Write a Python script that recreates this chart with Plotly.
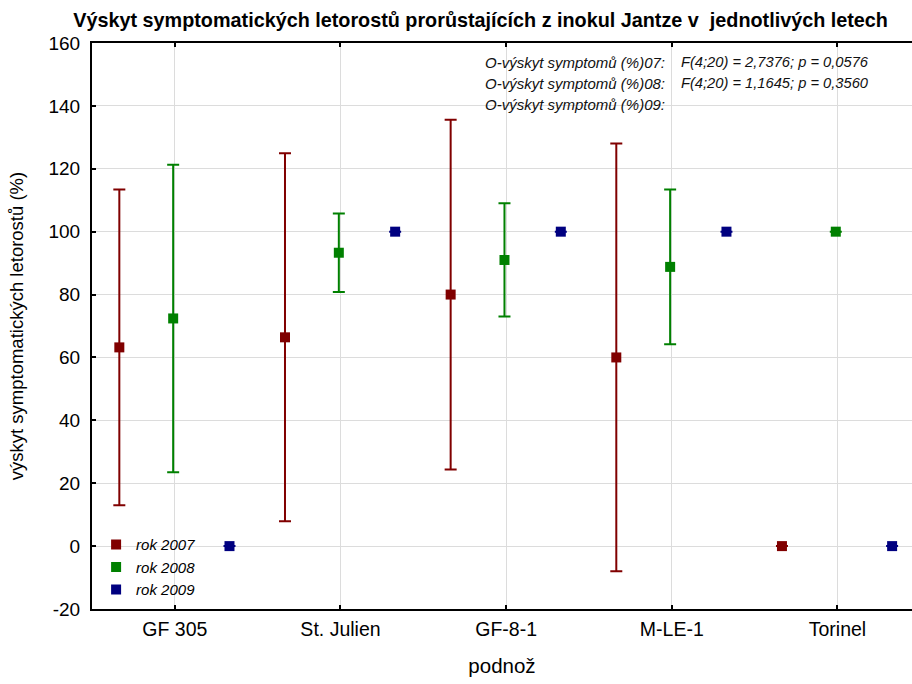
import plotly.graph_objects as go

categories = ["GF 305", "St. Julien", "GF-8-1", "M-LE-1", "Torinel"]
years = ["rok 2007", "rok 2008", "rok 2009"]
mean_2007 = [63.2, 66.4, 80.0, 60.0, 0.0]
err_2007 = [50.2, 58.5, 55.6, 68.0, 0.0]
mean_2008 = [72.4, 93.3, 91.0, 88.8, 100.0]
err_2008 = [48.9, 12.5, 18.0, 24.6, 0.0]
mean_2009 = [0.0, 100.0, 100.0, 100.0, 0.0]
err_2009 = [0.0, 0.0, 0.0, 0.0, 0.0]
y_tickvals = [-20, 0, 20, 40, 60, 80, 100, 120, 140, 160]
y_ticktext = ["-20", "0", "20", "40", "60", "80", "100", "120", "140", "160"]
colors = ["#800000", "#008000", "#000080"]
offsets = [-0.335, -0.01, 0.33]

stat_labels = ["O-výskyt symptomů (%)07:", "O-výskyt symptomů (%)08:", "O-výskyt symptomů (%)09:"]
stat_values = ["F(4;20) = 2,7376; p = 0,0576", "F(4;20) = 1,1645; p = 0,3560", ""]

means = [mean_2007, mean_2008, mean_2009]
errs = [err_2007, err_2008, err_2009]

fig = go.Figure()
for k in range(3):
    fig.add_trace(go.Scatter(
        x=[i + offsets[k] for i in range(len(categories))],
        y=means[k],
        mode="markers",
        name=years[k],
        marker=dict(symbol="square", size=10, color=colors[k]),
        error_y=dict(type="data", array=errs[k], visible=True,
                     color=colors[k], thickness=2, width=6),
    ))

FONT = "Liberation Sans, Arial, sans-serif"
plot_top = 43
plot_h = 566
for j, (lab, val) in enumerate(zip(stat_labels, stat_values)):
    ypix = 62 + 21 * j
    yp = 1 - (ypix - plot_top) / plot_h
    fig.add_annotation(x=0.701, y=yp, xref="paper", yref="paper", text=f"<i>{lab}</i>",
                       showarrow=False, xanchor="right", yanchor="middle",
                       font=dict(family=FONT, size=15, color="#111"))
    if val:
        fig.add_annotation(x=0.716, y=yp, xref="paper", yref="paper", text=f"<i>{val}</i>",
                           showarrow=False, xanchor="left", yanchor="middle",
                           font=dict(family=FONT, size=14.7, color="#111"))

fig.update_layout(
    width=912, height=684,
    margin=dict(l=92, r=0, t=43, b=75),
    paper_bgcolor="white", plot_bgcolor="white",
    font=dict(family=FONT, size=16, color="black"),
    title=dict(text="<b>Výskyt symptomatických letorostů prorůstajících z inokul Jantze v  jednotlivých letech</b>",
               x=0.527, xanchor="center", y=0.971, yanchor="middle",
               font=dict(family=FONT, size=19.8, color="black")),
    showlegend=True,
    legend=dict(x=0.005, y=0.005, xanchor="left", yanchor="bottom",
                bgcolor="rgba(0,0,0,0)", font=dict(family=FONT, size=15, style="italic"),
                tracegroupgap=0, itemwidth=30),
    xaxis=dict(range=[-0.5, 4.45], tickvals=list(range(len(categories))), ticktext=categories,
               showgrid=True, gridcolor="#dcdcdc", gridwidth=1, zeroline=False,
               showline=True, linecolor="black", linewidth=2, mirror="ticks",
               ticks="inside", ticklen=4, tickwidth=2, tickcolor="black",
               tickfont=dict(size=19.5), ticklabelstandoff=2,
               title=dict(text="podnož", font=dict(size=20.5), standoff=19)),
    yaxis=dict(range=[-20, 160], tickvals=y_tickvals, ticktext=y_ticktext,
               showgrid=True, gridcolor="#dcdcdc", gridwidth=1, zeroline=False,
               showline=True, linecolor="black", linewidth=2, mirror=False,
               ticks="inside", ticklen=4, tickwidth=2, tickcolor="black",
               tickfont=dict(size=19), ticklabelstandoff=6,
               title=dict(text="výskyt symptomatických letorostů (%)", font=dict(size=18.5), standoff=20)),
)

fig.write_html("out.html")
